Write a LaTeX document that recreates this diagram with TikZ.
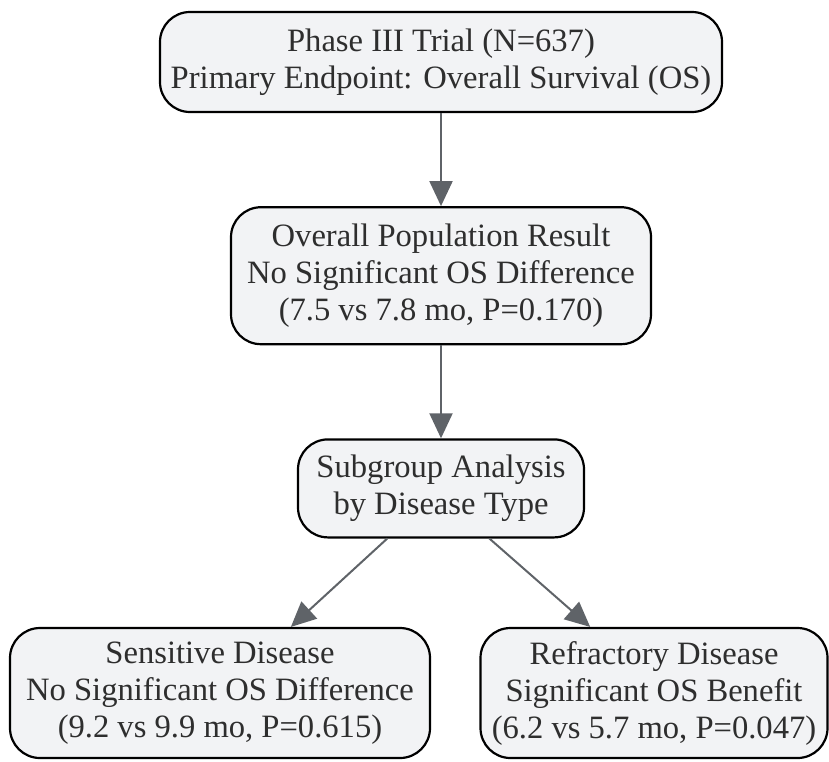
\documentclass[tikz,border=0pt]{standalone}
\usepackage{fontspec}
\setmainfont{Liberation Serif}
\usetikzlibrary{arrows.meta,positioning}
\definecolor{boxfill}{HTML}{F2F3F5}
\definecolor{linkgray}{HTML}{5F6368}
\tikzset{
    flow box/.style={rectangle, draw=black, line width=2.2pt, fill=boxfill, rounded corners=30pt, align=center, inner sep=0pt, text=black!82, font=\fontsize{32.6}{37}\selectfont},
    trial box/.style={flow box, minimum width=562pt, minimum height=100pt},
    result box/.style={flow box, minimum width=420pt, minimum height=137pt},
    sub box/.style={flow box, minimum width=286pt, minimum height=98pt},
    arm box/.style={flow box, minimum height=130pt},
    link/.style={-{Triangle[length=25pt,width=23pt]}, draw=linkgray, line width=2pt}
}
\begin{document}
\begin{tikzpicture}[x=1pt,y=1pt]
	\useasboundingbox (0,0) rectangle (829,-761);
	\node[trial box] (trial) at (441,-62) {Phase III Trial (N=637)\\Primary Endpoint: Overall Survival (OS)};
	\node[result box, below=93pt of trial] (overall) {Overall Population Result\\No Significant OS Difference\\(7.5 vs 7.8 mo, P=0.170)};
	\node[sub box, below=93pt of overall] (subgroup) {Subgroup Analysis\\by Disease Type};
	\node[arm box, minimum width=420pt] (sensitive) at (220,-693) {Sensitive Disease\\No Significant OS Difference\\(9.2 vs 9.9 mo, P=0.615)};
	\node[arm box, minimum width=347pt] (refractory) at (654,-693) {Refractory Disease\\Significant OS Benefit\\(6.2 vs 5.7 mo, P=0.047)};
	% links
	\draw[link] (trial) -- (overall);
	\draw[link] (overall) -- (subgroup);
	\draw[link] (subgroup.223) -- (sensitive.43);
	\draw[link] (subgroup.314) -- (refractory.134);
\end{tikzpicture}
\end{document}
